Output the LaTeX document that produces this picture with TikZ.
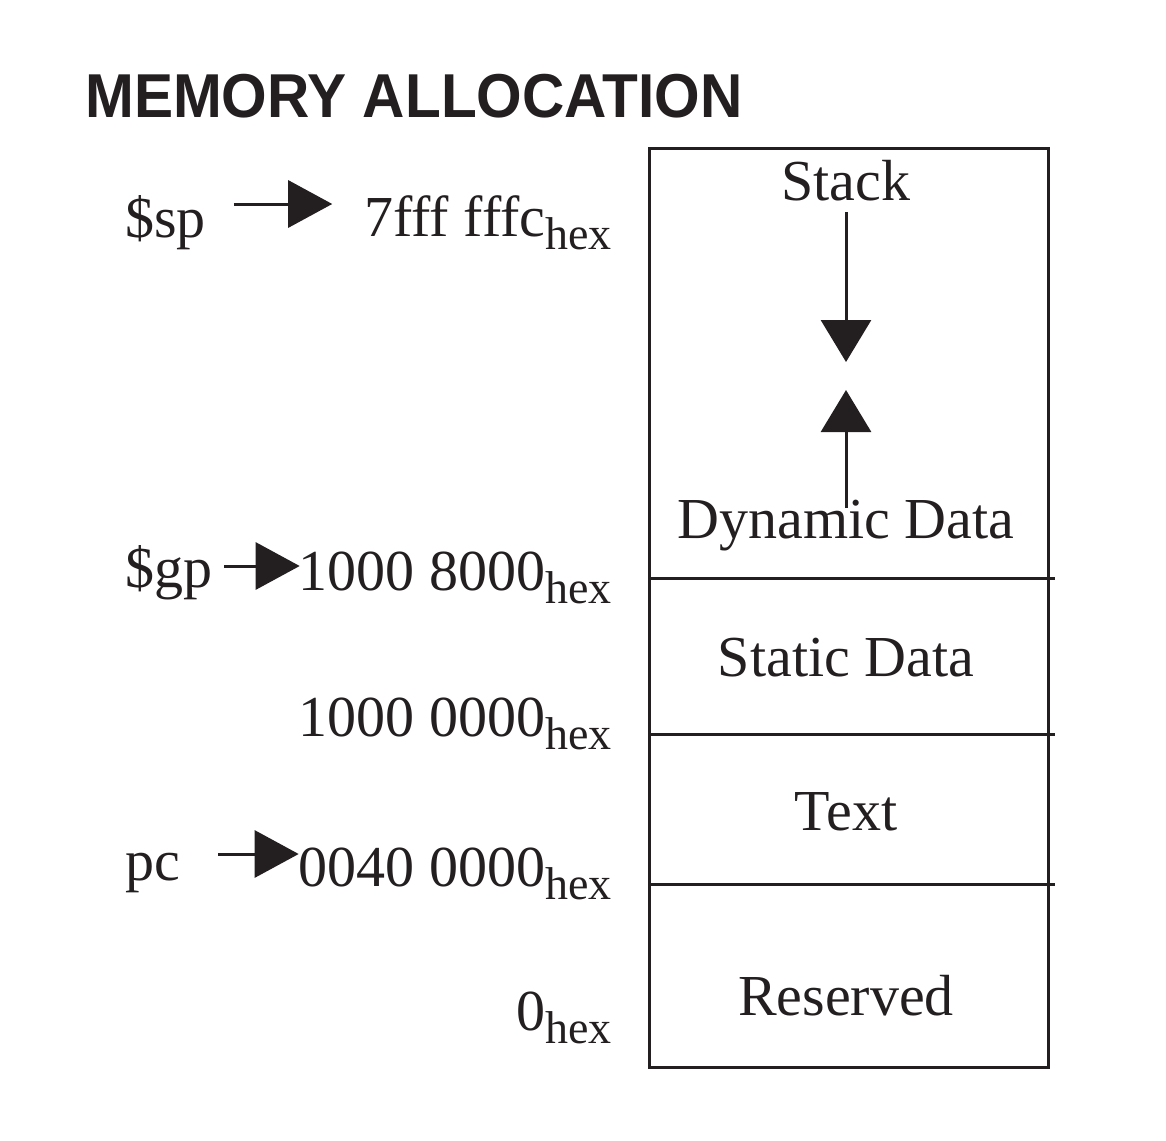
\documentclass[tikz,border=0pt]{standalone}
\usepackage{fontspec}
\setmainfont{Liberation Serif}
\newfontfamily\titlefont{Liberation Sans}
\usetikzlibrary{arrows.meta}
\definecolor{ink}{HTML}{231F20}
\newcommand\hexsub{\raisebox{-13pt}{\fontsize{46}{46}\selectfont hex}}
\tikzset{
  lbl/.style={inner sep=0pt, text=ink, font=\fontsize{58}{60}\selectfont},
  addr/.style={lbl, anchor=base east},
  ptr/.style={line width=3pt, draw=ink, -{Triangle[length=44pt,width=47pt]}},
  vptr/.style={line width=3pt, draw=ink, -{Triangle[length=42pt,width=50pt]}},
  wall/.style={line width=3pt, draw=ink},
}
\begin{document}
\begin{tikzpicture}[x=1pt,y=-1pt]
\useasboundingbox (0,0) rectangle (1166,1140);
% title
\node[inner sep=0pt, anchor=base west, text=ink, font=\titlefont\bfseries\fontsize{62}{64}\selectfont] (title) at (85,117) {\scalebox{0.945}[1]{MEMORY ALLOCATION}};
% memory box
\draw[wall] (649,148) rectangle (1048,1067);
\draw[wall] (649,578) -- (1055,578);
\draw[wall] (649,734) -- (1055,734);
\draw[wall] (649,884) -- (1055,884);
% region labels
\node[lbl, anchor=base] (stack) at (846,200) {Stack};
\node[lbl, anchor=base] (dyn) at (846,538) {Dynamic Data};
\node[lbl, anchor=base] (static) at (846,676) {Static Data};
\node[lbl, anchor=base] (text) at (846,830) {Text};
\node[lbl, anchor=base] (res) at (846,1015) {Reserved};
\coordinate (dtip) at (846,362);
\coordinate (utip) at (846,390);
\draw[vptr] ([yshift=-12pt]stack.base) -- (dtip);
\draw[vptr] ([yshift=30pt]dyn.base) -- (utip);
% addresses
\node[addr] (a1) at (612,236) {7fff fffc\hexsub};
\node[addr] (a2) at (612,590) {1000 8000\hexsub};
\node[addr] (a3) at (612,736) {1000 0000\hexsub};
\node[addr] (a4) at (612,886) {0040 0000\hexsub};
\node[addr] (a5) at (612,1030) {0\hexsub};
% pointers
\node[lbl, anchor=base west] (sp) at (125,237) {\$sp};
\node[lbl, anchor=base west] (gp) at (125,587) {\$gp};
\node[lbl, anchor=base west] (pc) at (125,880) {pc};
\draw[ptr, shorten <=28pt, shorten >=32pt] ([yshift=33pt]sp.base east) -- ([yshift=33pt]sp.base east -| a1.west);
\draw[ptr, shorten <=12pt, shorten >=-1pt] ([yshift=21pt]gp.base east) -- ([yshift=21pt]gp.base east -| a2.west);
\draw[ptr, shorten <=38pt, shorten >=0pt] ([yshift=26pt]pc.base east) -- ([yshift=26pt]pc.base east -| a4.west);
\end{tikzpicture}
\end{document}
